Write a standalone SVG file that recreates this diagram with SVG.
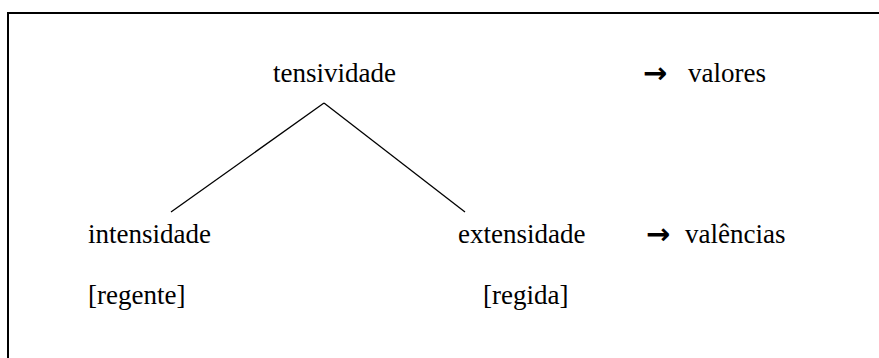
<svg xmlns="http://www.w3.org/2000/svg" width="879" height="358" viewBox="0 0 879 358">
<style>
.t{font-family:"Liberation Serif","Times New Roman",serif;font-size:27px;fill:#000}
.a{font-family:"DejaVu Sans",sans-serif;font-size:29px;font-weight:bold;fill:#000}
.c{stroke:#000;stroke-width:1.3;fill:none}
</style>
<rect x="0" y="0" width="879" height="358" fill="#fff"/>
<rect x="8" y="13" width="900" height="400" fill="none" stroke="#000" stroke-width="2"/>
<g id="connectors">
<line class="c" x1="324" y1="103" x2="171" y2="212"/>
<line class="c" x1="324" y1="103" x2="465" y2="212"/>
</g>
<g id="tensividade"><text class="t" x="273" y="82">tensividade</text></g>
<g id="valores"><text class="a" x="643" y="83">→</text><text class="t" x="688" y="82">valores</text></g>
<g id="intensidade"><text class="t" x="88" y="243">intensidade</text></g>
<g id="extensidade"><text class="t" x="458" y="243">extensidade</text></g>
<g id="valencias"><text class="a" x="646" y="244">→</text><text class="t" x="685" y="243">valências</text></g>
<g id="regente"><text class="t" x="88" y="304">[regente]</text></g>
<g id="regida"><text class="t" x="483" y="304">[regida]</text></g>
</svg>
